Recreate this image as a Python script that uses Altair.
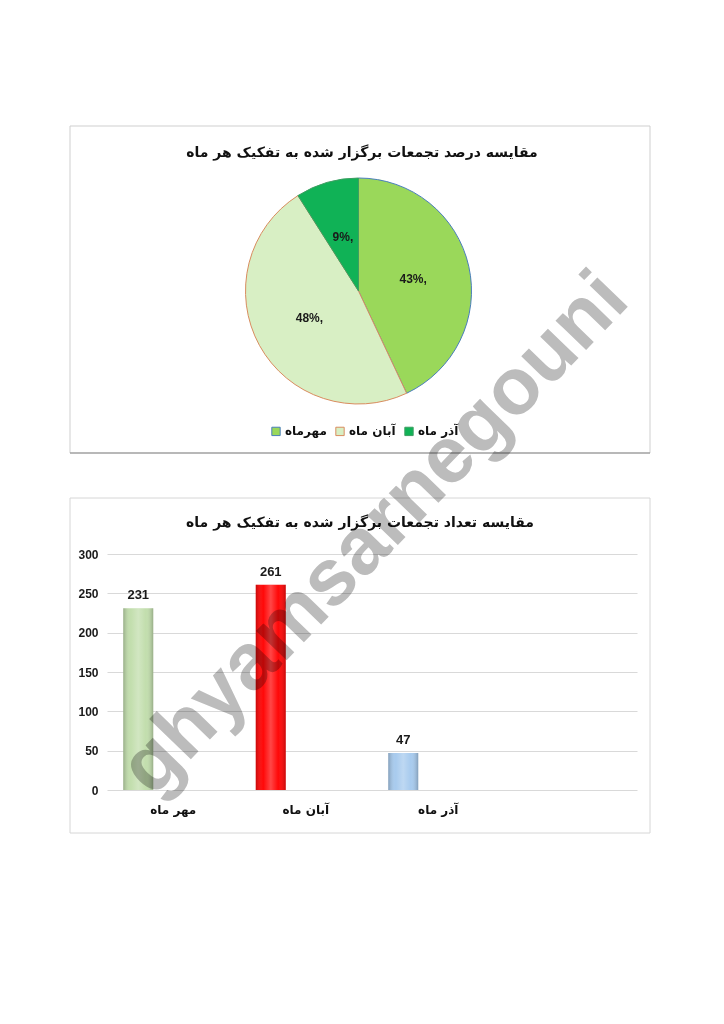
import altair as alt
import pandas as pd

# ---------------- data ----------------
pie_title = "مقایسه درصد تجمعات برگزار شده به تفکیک هر ماه"
bar_title = "مقایسه تعداد تجمعات برگزار شده به تفکیک هر ماه"

pie_months = ["مهرماه", "آبان ماه", "آذر ماه"]
pie_percents = [43, 48, 9]
pie_labels = ["43%,", "48%,", "9%,"]
pie_colors = ["#9AD85A", "#D8EFC4", "#10B256"]
pie_strokes = ["#4A7EBB", "#D98C5F", "#3E9E62"]

bar_months = ["مهر ماه", "آبان ماه", "آذر ماه"]
bar_counts = [231, 261, 47]
bar_colors = ["#C2DEAD", "#FF0808", "#A8CBEE"]
x_domain = bar_months + [" "]
y_ticks = [0, 50, 100, 150, 200, 250, 300]

watermark = ["ghyamsarnegouni"]

FA = "DejaVu Sans"
LA = "Liberation Sans"

one = pd.DataFrame({"k": [0]})

# ---------------- pie chart ----------------
pie_df = pd.DataFrame({"month": pie_months, "pct": pie_percents,
                       "label": pie_labels, "idx": [0, 1, 2]})

frame1 = alt.Chart(one).mark_rect(fill="#ffffff", fillOpacity=0, stroke="#cfcfcf", strokeWidth=1).encode(
    x=alt.value(-37), x2=alt.value(543), y=alt.value(0), y2=alt.value(327))
bottom1 = alt.Chart(one).mark_rule(color="#8a8a8a", strokeWidth=1.2).encode(
    x=alt.value(-37), x2=alt.value(543), y=alt.value(327))

legend = alt.Legend(title=None, orient="none", legendX=163, legendY=299, direction="horizontal",
                    symbolType="square", symbolSize=70, symbolStrokeWidth=1,
                    labelFont=FA, labelFontSize=12, labelFontWeight="bold", labelColor="#111111",
                    columnPadding=6, labelOffset=3)

pie_base = alt.Chart(pie_df).encode(
    theta=alt.Theta("pct:Q", stack=True),
    order=alt.Order("idx:Q"),
    x=alt.value(251.5), y=alt.value(165))

arcs = pie_base.mark_arc(outerRadius=113, strokeWidth=1).encode(
    color=alt.Color("month:N", scale=alt.Scale(domain=pie_months, range=pie_colors), legend=legend),
    stroke=alt.Stroke("month:N", scale=alt.Scale(domain=pie_months, range=pie_strokes), legend=legend))

pie_text = pie_base.mark_text(radius=56, font=LA, fontSize=12, fontWeight="bold", color="#1a1a1a").encode(
    text="label:N")

title1 = alt.Chart(pd.DataFrame({"t": [pie_title]})).mark_text(
    font=FA, fontSize=14, fontWeight="bold", color="#111111").encode(
    text="t:N", x=alt.value(255), y=alt.value(27))

pie = alt.layer(frame1, bottom1, arcs, pie_text, title1).properties(width=530, height=327)

# ---------------- bar chart ----------------
bar_df = pd.DataFrame({"month": bar_months, "count": bar_counts, "color": bar_colors})

xenc = alt.X("month:N", scale=alt.Scale(domain=x_domain, paddingInner=0, paddingOuter=0),
             axis=alt.Axis(title=None, labelFont=FA, labelFontSize=12, labelFontWeight="bold",
                           labelColor="#111111", labelPadding=14, domain=False, ticks=False, labelAngle=0))
yenc = alt.Y("count:Q", scale=alt.Scale(domain=[0, 300]),
             axis=alt.Axis(values=y_ticks, title=None, grid=True, gridColor="#d9d9d9", domain=False,
                           ticks=False, labelFont=LA, labelFontSize=12, labelFontWeight="bold",
                           labelColor="#1a1a1a", labelPadding=9))

frame2 = alt.Chart(one).mark_rect(fill="#ffffff", fillOpacity=0, stroke="#d6d6d6", strokeWidth=1).encode(
    x=alt.value(-37), x2=alt.value(543), y=alt.value(-56), y2=alt.value(279))

bars = alt.Chart(bar_df).mark_bar(size=30, xOffset=-35).encode(
    x=xenc, y=yenc, color=alt.Color("color:N", scale=None))

shade_grad = alt.Gradient(
    gradient="linear", x1=0, x2=1, y1=0, y2=0,
    stops=[alt.GradientStop(color="rgba(0,0,0,0.22)", offset=0),
           alt.GradientStop(color="rgba(255,255,255,0.0)", offset=0.25),
           alt.GradientStop(color="rgba(255,255,255,0.25)", offset=0.5),
           alt.GradientStop(color="rgba(255,255,255,0.0)", offset=0.75),
           alt.GradientStop(color="rgba(0,0,0,0.22)", offset=1)])
shade = alt.Chart(bar_df).mark_bar(size=30, xOffset=-35, fill=shade_grad).encode(x=xenc, y=yenc)

vals = alt.Chart(bar_df).mark_text(xOffset=-35, dy=-6, baseline="bottom", font=LA, fontSize=13,
                                   fontWeight="bold", color="#1a1a1a").encode(
    x=xenc, y=yenc, text="count:Q")

title2 = alt.Chart(pd.DataFrame({"t": [bar_title]})).mark_text(
    font=FA, fontSize=14, fontWeight="bold", color="#111111").encode(
    text="t:N", x=alt.value(253), y=alt.value(-31))

wm = alt.Chart(pd.DataFrame({"w": watermark})).mark_text(
    font=LA, fontSize=80, fontWeight="bold", angle=314, align="center", baseline="middle",
    color="#bcbcbc", blend="multiply").encode(
    text="w:N", x=alt.value(268), y=alt.value(-20))

bar = alt.layer(frame2, bars, shade, vals, title2, wm).properties(width=530, height=236)

chart = alt.vconcat(pie, bar, spacing=101, bounds="flush").properties(
    padding={"top": 117, "left": 60, "right": 5, "bottom": 5},
    background="#ffffff"
).configure_view(stroke="transparent")

chart.save("out.html", embed_options={"renderer": "svg", "actions": False})
